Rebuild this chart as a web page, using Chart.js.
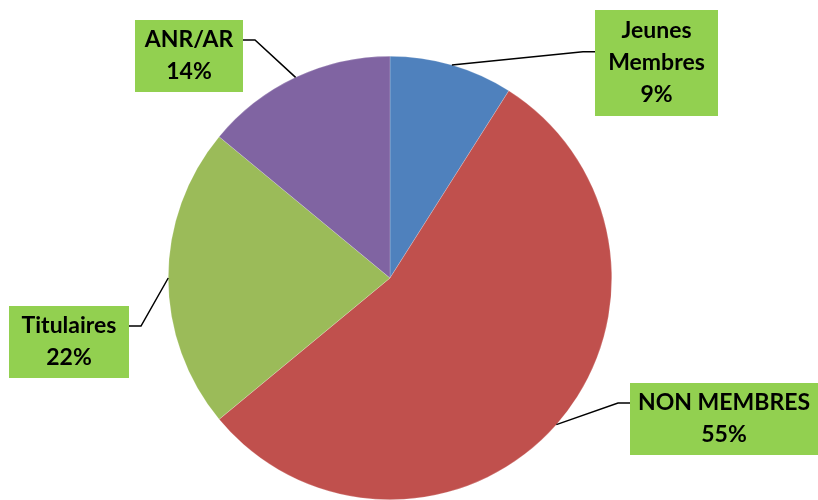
<!DOCTYPE html>
<html><head><meta charset="utf-8">
<script src="https://cdn.jsdelivr.net/npm/chart.js@4/dist/chart.umd.min.js"></script>
<style>html,body{margin:0;padding:0;background:#fff}#wrap{width:818px;height:500px;position:relative}</style>
</head><body><div id="wrap"><canvas id="c" width="818" height="500"></canvas></div>
<script>
const categories = ["Jeunes Membres", "NON MEMBRES", "Titulaires", "ANR/AR"];
const labelLines = [["Jeunes", "Membres"], ["NON MEMBRES"], ["Titulaires"], ["ANR/AR"]];
const values = [9, 55, 22, 14];
const colors = ["#4F81BD", "#C0504D", "#9BBB59", "#8064A2"];

// label box layout (x, y, w, h, side the leader attaches to, elbow length)
const boxes = [
  {x:595, y:10,  w:123, h:106, side:'left',  elbow:12},
  {x:630, y:383, w:188, h:72,  side:'left',  elbow:12},
  {x:9,   y:306, w:120, h:72,  side:'right', elbow:12},
  {x:135, y:20,  w:108, h:72,  side:'right', elbow:12}
];

const labelPlugin = {
  id: 'calloutLabels',
  afterDatasetsDraw(chart) {
    const ctx = chart.ctx;
    const meta = chart.getDatasetMeta(0);
    const total = values.reduce((a,b)=>a+b,0);
    meta.data.forEach((arc, i) => {
      const p = arc.getProps(['x','y','startAngle','endAngle','outerRadius'], true);
      const mid = (p.startAngle + p.endAngle) / 2;
      const ax = p.x + Math.cos(mid) * p.outerRadius;
      const ay = p.y + Math.sin(mid) * p.outerRadius;
      const b = boxes[i];
      const lines = labelLines[i].concat([Math.round(values[i] / total * 100) + '%']);
      const lh = 32;
      const cy = b.y + b.h / 2;
      const attachY = cy - (lines.length * lh) / 2 + lh * 0.5 + (lines.length === 3 ? lh * 0.65 : 0);
      const ex = b.side === 'left' ? b.x : b.x + b.w;
      const elx = b.side === 'left' ? ex - b.elbow : ex + b.elbow;
      ctx.save();
      ctx.strokeStyle = '#000';
      ctx.lineWidth = 1.5;
      ctx.beginPath();
      ctx.moveTo(ax, ay);
      ctx.lineTo(elx, attachY);
      ctx.lineTo(ex, attachY);
      ctx.stroke();
      ctx.fillStyle = '#92D050';
      ctx.fillRect(b.x, b.y, b.w, b.h);
      ctx.fillStyle = '#000';
      ctx.font = 'bold 23px Lato, "Open Sans", sans-serif';
      ctx.textAlign = 'center';
      ctx.textBaseline = 'middle';
      const top = cy - (lines.length * lh) / 2 + lh / 2;
      lines.forEach((t, k) => ctx.fillText(t, b.x + b.w / 2, top + k * lh));
      ctx.restore();
    });
  }
};

new Chart(document.getElementById('c'), {
  type: 'pie',
  data: {
    labels: categories,
    datasets: [{
      data: values,
      backgroundColor: colors,
      borderColor: 'rgba(255,255,255,0.4)',
      borderWidth: 0.5,
      hoverOffset: 0,
      offset: 0
    }]
  },
  options: {
    responsive: false,
    animation: false,
    events: [],
    layout: { padding: { top: 56, bottom: 0, left: 100, right: 138 } },
    plugins: { legend: { display: false }, tooltip: { enabled: false } }
  },
  plugins: [labelPlugin]
});
</script>
</body></html>
